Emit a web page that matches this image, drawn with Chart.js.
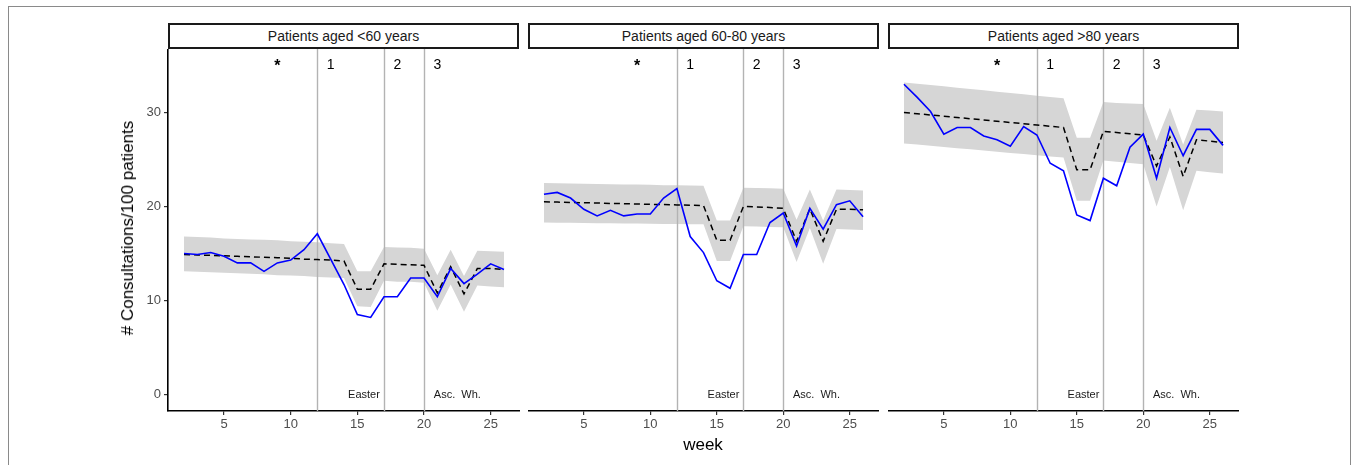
<!DOCTYPE html>
<html>
<head>
<meta charset="utf-8">
<script src="https://cdn.jsdelivr.net/npm/chart.js@4.4.1/dist/chart.umd.min.js"></script>
<style>
  html, body { margin: 0; padding: 0; background: #fff; }
  body { width: 1356px; height: 465px; overflow: hidden; position: relative; font-family: "Liberation Sans", Arial, sans-serif; }
  .frame { position: absolute; left: 8px; top: 6px; width: 1343px; height: 480px; border: 1.5px solid #8a8a8a; box-sizing: border-box; }
  .strip { position: absolute; top: 23px; height: 26px; width: 351px; border: 2px solid #1a1a1a; box-sizing: border-box; font-size: 14px; color: #1a1a1a; text-align: center; line-height: 22px; background: #fff; }
  canvas { position: absolute; }
  .ytitle { position: absolute; left: 128px; top: 228px; transform: translate(-50%, -50%) rotate(-90deg); font-size: 17px; color: #000; white-space: nowrap; }
  .xtitle { position: absolute; left: 703px; top: 445px; transform: translate(-50%, -50%); font-size: 17px; color: #000; white-space: nowrap; }
</style>
</head>
<body>
<div class="frame"></div>
<div class="strip" style="left:168px">Patients aged &lt;60 years</div>
<div class="strip" style="left:528px">Patients aged 60-80 years</div>
<div class="strip" style="left:888px">Patients aged &gt;80 years</div>
<canvas id="c1" width="420" height="416" style="left:100px; top:49px;"></canvas>
<canvas id="c2" width="351" height="416" style="left:528px; top:49px;"></canvas>
<canvas id="c3" width="351" height="416" style="left:888px; top:49px;"></canvas>
<div class="ytitle"># Consultations/100 patients</div>
<div class="xtitle">week</div>
<script>
// ---- data ----
const weeks = [2,3,4,5,6,7,8,9,10,11,12,13,14,15,16,17,18,19,20,21,22,23,24,25,26];

const obs60 = [15.0,14.9,15.1,14.7,14.0,14.0,13.1,14.0,14.3,15.4,17.1,14.4,11.7,8.5,8.2,10.4,10.4,12.4,12.4,10.4,13.4,11.8,12.8,13.9,13.3];
const exp60 = [14.9,14.85,14.8,14.75,14.7,14.65,14.6,14.55,14.5,14.4,14.35,14.3,14.2,11.2,11.2,13.9,13.85,13.8,13.75,10.8,13.6,10.7,13.4,13.4,13.3];
const lo60  = [13.1,13.05,13.0,12.95,12.9,12.85,12.8,12.7,12.65,12.6,12.5,12.45,12.4,9.4,9.3,12.1,12.0,12.0,11.9,8.9,11.7,8.8,11.6,11.5,11.4];
const hi60  = [16.8,16.75,16.7,16.6,16.55,16.5,16.45,16.4,16.3,16.25,16.2,16.1,16.0,13.1,13.1,15.7,15.65,15.6,15.5,12.7,15.4,12.6,15.3,15.25,15.2];

const obs6080 = [21.3,21.5,20.9,19.7,19.0,19.6,19.0,19.2,19.2,20.9,21.9,16.8,15.1,12.1,11.3,14.9,14.9,18.3,19.3,15.8,19.8,17.6,20.2,20.6,18.9];
const exp6080 = [20.5,20.47,20.43,20.4,20.37,20.33,20.3,20.27,20.23,20.2,20.17,20.13,20.1,16.4,16.4,20.0,19.95,19.9,19.8,16.3,19.75,16.3,19.7,19.7,19.65];
const lo6080  = [18.3,18.28,18.27,18.25,18.23,18.22,18.2,18.18,18.17,18.15,18.13,18.12,18.1,14.2,14.2,17.9,17.87,17.83,17.8,14.1,17.7,13.9,17.6,17.55,17.5];
const hi6080  = [22.5,22.47,22.45,22.43,22.4,22.37,22.35,22.33,22.3,22.27,22.25,22.23,22.2,18.5,18.5,22.0,21.97,21.93,21.9,18.6,21.8,18.5,21.8,21.75,21.7];

const obs80 = [33.0,31.6,30.1,27.7,28.4,28.4,27.5,27.1,26.4,28.5,27.6,24.6,23.8,19.1,18.5,23.0,22.2,26.3,27.7,23.0,28.4,25.4,28.2,28.2,26.5];
const exp80 = [30.0,29.87,29.73,29.6,29.47,29.33,29.2,29.07,28.93,28.8,28.67,28.53,28.4,23.9,23.9,28.0,27.87,27.73,27.6,24.3,27.4,23.2,27.1,26.95,26.8];
const lo80  = [26.7,26.58,26.45,26.33,26.2,26.08,25.95,25.83,25.7,25.58,25.45,25.33,25.2,20.6,20.6,24.9,24.77,24.63,24.5,20.0,24.2,19.6,23.8,23.65,23.5];
const hi80  = [33.2,33.06,32.92,32.78,32.63,32.49,32.35,32.21,32.07,31.93,31.78,31.64,31.5,27.3,27.3,31.1,31.0,30.95,30.9,27.0,30.5,26.6,30.3,30.2,30.1];

const xTicks = [5,10,15,20,25];
const yTicks = [0,10,20,30];
const eventWeeks = [12,17,20];
const markerLabels = ['*','1','2','3'];
const markerWeeks = [9,13,18,21];
const markerY = 35;
const holidayLabels = ['Easter','Asc.  Wh.'];
const holidayWeeks = [15.5,22.5];
const holidayY = 0;

// ---- chart ----
const FONT = '"Liberation Sans", Arial, sans-serif';
const toXY = (arr) => weeks.map((w, i) => ({x: w, y: arr[i]}));

const annotPlugin = {
  id: 'annot',
  beforeDatasetDraw(chart, args) {
    if (args.index !== 1) return;
    const ctx = chart.ctx, xs = chart.scales.x, a = chart.chartArea;
    ctx.save();
    ctx.strokeStyle = '#b3b3b3';
    ctx.lineWidth = 1.4;
    eventWeeks.forEach(w => {
      const px = Math.round(xs.getPixelForValue(w)) + 0.5;
      ctx.beginPath(); ctx.moveTo(px, a.top); ctx.lineTo(px, a.bottom); ctx.stroke();
    });
    ctx.restore();
  },
  afterDatasetsDraw(chart) {
    const ctx = chart.ctx, xs = chart.scales.x, ys = chart.scales.y;
    ctx.save();
    ctx.fillStyle = '#000';
    ctx.textAlign = 'center';
    ctx.textBaseline = 'middle';
    markerLabels.forEach((t, i) => {
      const star = t === '*';
      ctx.font = (star ? 'bold 16px ' : '14px ') + FONT;
      ctx.fillText(t, xs.getPixelForValue(markerWeeks[i]), ys.getPixelForValue(markerY) + (star ? 1 : 0));
    });
    ctx.font = '11px ' + FONT;
    ctx.fillStyle = '#1a1a1a';
    holidayLabels.forEach((t, i) => {
      ctx.fillText(t, xs.getPixelForValue(holidayWeeks[i]), ys.getPixelForValue(holidayY));
    });
    ctx.restore();
  }
};

function makeChart(id, obs, exp, lo, hi, showY) {
  return new Chart(document.getElementById(id), {
    type: 'line',
    data: {
      datasets: [
        { data: toXY(obs), borderColor: '#0000ff', borderWidth: 1.6, pointRadius: 0, tension: 0, fill: false },
        { data: toXY(exp), borderColor: '#000', borderWidth: 1.5, borderDash: [6, 4], pointRadius: 0, tension: 0, fill: false },
        { data: toXY(hi), borderWidth: 0, borderColor: 'rgba(0,0,0,0)', backgroundColor: '#d6d6d6', pointRadius: 0, tension: 0, fill: '+1' },
        { data: toXY(lo), borderWidth: 0, borderColor: 'rgba(0,0,0,0)', pointRadius: 0, tension: 0, fill: false }
      ]
    },
    options: {
      responsive: false,
      animation: false,
      devicePixelRatio: 1,
      layout: { padding: 0 },
      plugins: { legend: { display: false }, tooltip: { enabled: false }, title: { display: false } },
      scales: {
        x: {
          type: 'linear', min: 0.8, max: 27.2,
          afterBuildTicks: s => { s.ticks = xTicks.map(v => ({value: v})); },
          afterFit: s => { s.height = 54; s.paddingLeft = 0; s.paddingRight = 0; },
          grid: { display: true, drawOnChartArea: false, drawTicks: true, tickLength: 4, color: '#333', lineWidth: 1.2 },
          border: { display: true, color: '#000', width: 1.6 },
          ticks: { color: '#4d4d4d', font: { size: 13, family: FONT }, padding: 2, maxRotation: 0, autoSkip: false }
        },
        y: {
          type: 'linear', min: -1.75, max: 36.75, display: showY,
          afterBuildTicks: s => { s.ticks = yTicks.map(v => ({value: v})); },
          afterFit: s => { s.width = showY ? 68 : 0; s.paddingTop = 0; s.paddingBottom = 0; },
          grid: { display: true, drawOnChartArea: false, drawTicks: true, tickLength: 4, color: '#333', lineWidth: 1.2 },
          border: { display: true, color: '#000', width: 1.6 },
          ticks: { color: '#4d4d4d', font: { size: 13, family: FONT }, padding: 3 }
        }
      }
    },
    plugins: [annotPlugin]
  });
}

makeChart('c1', obs60, exp60, lo60, hi60, true);
makeChart('c2', obs6080, exp6080, lo6080, hi6080, false);
makeChart('c3', obs80, exp80, lo80, hi80, false);
</script>
</body>
</html>
